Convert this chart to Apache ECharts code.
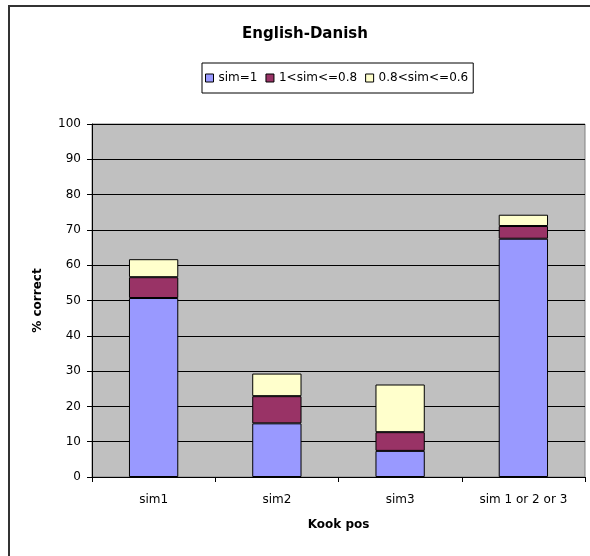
<!DOCTYPE html>
<html>
<head>
<meta charset="utf-8">
<script src="https://cdn.jsdelivr.net/npm/echarts@6/dist/echarts.min.js"></script>
<style>
  html, body { margin: 0; padding: 0; background: #fff; }
  #chart { width: 590px; height: 556px; }
</style>
</head>
<body>
<div id="chart"></div>
<script>
// Share of correct Kook pos matches, split by similarity band
const categories = ['sim1', 'sim2', 'sim3', 'sim 1 or 2 or 3'];
const seriesNames = ['sim=1', '1<sim<=0.8', '0.8<sim<=0.6'];
const simExact = [50.7, 15.2, 7.4, 67.5];
const simHigh = [5.9, 7.7, 5.3, 3.6];
const simMid = [5.1, 6.4, 13.5, 3.2];
const yTicks = [0, 10, 20, 30, 40, 50, 60, 70, 80, 90, 100];

const colors = ['#9999FF', '#993366', '#FFFFCC'];
const font = 'DejaVu Sans, Verdana, sans-serif';

const chart = echarts.init(document.getElementById('chart'), null, { renderer: 'canvas' });

function barSeries(name, data, color) {
  return {
    name: name,
    type: 'bar',
    stack: 'total',
    data: data,
    barWidth: '40%',
    itemStyle: { color: color, borderColor: '#000', borderWidth: 1 },
    emphasis: { disabled: true }
  };
}

chart.setOption({
  animation: false,
  textStyle: { fontFamily: font },
  graphic: [{
    type: 'rect',
    shape: { x: 9, y: 6, width: 700, height: 700 },
    style: { fill: 'none', stroke: '#333', lineWidth: 2 },
    z: 100,
    silent: true
  }],
  title: {
    text: 'English-Danish',
    left: 300,
    top: 22,
    textAlign: 'center',
    textStyle: { fontFamily: font, fontWeight: 'bold', fontSize: 15, color: '#000' }
  },
  legend: {
    data: seriesNames,
    left: 202,
    top: 63,
    itemWidth: 8,
    itemHeight: 8,
    itemGap: 8,
    padding: [9, 5, 9, 3],
    borderColor: '#000',
    borderWidth: 1,
    icon: 'rect',
    itemStyle: { borderColor: '#000', borderWidth: 1 },
    textStyle: { fontFamily: font, fontSize: 12, color: '#000' },
    selectedMode: false
  },
  grid: {
    left: 92,
    top: 124,
    right: 5,
    bottom: 79,
    show: true,
    backgroundColor: '#C0C0C0',
    borderColor: '#808080',
    borderWidth: 1
  },
  xAxis: {
    type: 'category',
    data: categories,
    name: 'Kook pos',
    nameLocation: 'middle',
    nameGap: 42,
    nameTextStyle: { fontFamily: font, fontWeight: 'bold', fontSize: 12, color: '#000' },
    axisLine: { lineStyle: { color: '#000', width: 1 } },
    axisTick: { show: true, length: 5, lineStyle: { color: '#000' } },
    axisLabel: { margin: 17, fontFamily: font, fontSize: 12, color: '#000' }
  },
  yAxis: {
    type: 'value',
    min: yTicks[0],
    max: yTicks[yTicks.length - 1],
    interval: 10,
    name: '% correct',
    nameLocation: 'middle',
    nameRotate: 90,
    nameGap: 48,
    nameTextStyle: { fontFamily: font, fontWeight: 'bold', fontSize: 12, color: '#000' },
    axisLine: { show: true, lineStyle: { color: '#000', width: 1 } },
    axisTick: { show: true, length: 5, lineStyle: { color: '#000' } },
    axisLabel: { margin: 11, fontFamily: font, fontSize: 12, color: '#000' },
    splitLine: { show: true, lineStyle: { color: '#000', width: 1 } }
  },
  series: [
    barSeries(seriesNames[0], simExact, colors[0]),
    barSeries(seriesNames[1], simHigh, colors[1]),
    barSeries(seriesNames[2], simMid, colors[2])
  ]
});
</script>
</body>
</html>
